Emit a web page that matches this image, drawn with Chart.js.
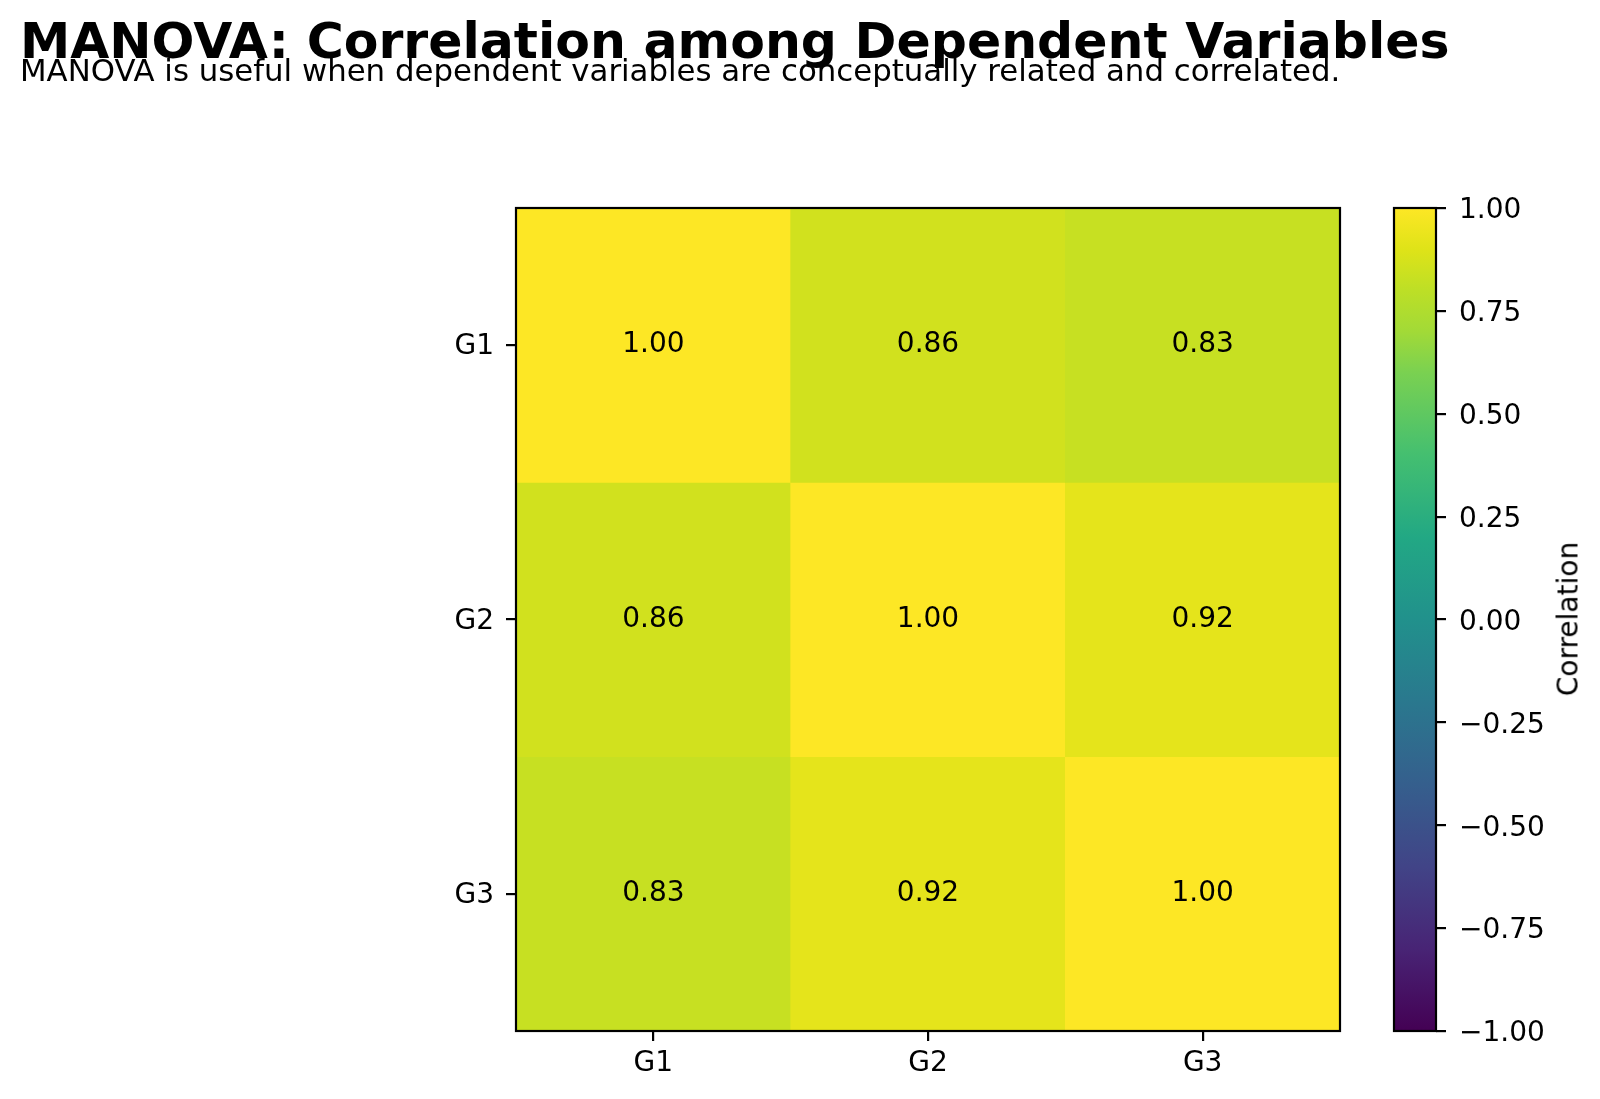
<!DOCTYPE html>
<html>
<head>
<meta charset="utf-8">
<script src="https://cdn.jsdelivr.net/npm/chart.js@4.4.1/dist/chart.umd.min.js"></script>
<style>
  body { margin: 0; background: #fff; }
  #wrap { position: relative; width: 1600px; height: 1099px; font-family: 'DejaVu Sans'; color: #000; }
  #title { position: absolute; left: 20px; top: 16px; font-size: 50.5px; font-weight: bold; line-height: 1; white-space: nowrap; }
  #subtitle { position: absolute; left: 20px; top: 55px; font-size: 30.8px; line-height: 1; white-space: nowrap; }
  #heat { position: absolute; left: 0; top: 0; }
  #bar { position: absolute; left: 1300px; top: 0; }
  #cblabel { position: absolute; left: 1568px; top: 619px; transform: translate(-50%, -50%) rotate(-90deg); font-size: 28px; white-space: nowrap; }
</style>
</head>
<body>
<div id="wrap">
  <canvas id="heat" width="1400" height="1099"></canvas>
  <canvas id="bar" width="300" height="1099"></canvas>
  <div id="title">MANOVA: Correlation among Dependent Variables</div>
  <div id="subtitle">MANOVA is useful when dependent variables are conceptually related and correlated.</div>
  <div id="cblabel">Correlation</div>
</div>
<script>
var variables = ['G1', 'G2', 'G3'];
var corrG1 = [1.00, 0.86, 0.83];
var corrG2 = [0.86, 1.00, 0.92];
var corrG3 = [0.83, 0.92, 1.00];
var corrRows = [corrG1, corrG2, corrG3];
var colorMin = -1;
var colorMax = 1;

// viridis anchors
var viridis = [
  [0.0, [68, 1, 84]], [0.1, [72, 36, 117]], [0.2, [65, 68, 135]], [0.3, [53, 95, 141]],
  [0.4, [42, 120, 142]], [0.5, [33, 145, 140]], [0.6, [34, 168, 132]], [0.7, [68, 191, 112]],
  [0.8, [122, 209, 81]], [0.85, [162, 218, 55]], [0.9, [189, 223, 38]], [0.95, [223, 227, 24]],
  [1.0, [253, 231, 37]]
];

function viridisColor(v){
  var t = (v - colorMin) / (colorMax - colorMin);
  t = Math.max(0, Math.min(1, t));
  for (var i = 1; i < viridis.length; i++) {
    if (t <= viridis[i][0]) {
      var a = viridis[i - 1], b = viridis[i];
      var f = (t - a[0]) / (b[0] - a[0]);
      var c = a[1].map(function(x, k){ return Math.round(x + f * (b[1][k] - x)); });
      return 'rgb(' + c.join(',') + ')';
    }
  }
  return 'rgb(253,231,37)';
}

Chart.defaults.font.family = 'DejaVu Sans';
Chart.defaults.font.size = 28;
Chart.defaults.color = '#000';

var framePlugin = {
  id: 'frame',
  afterDraw: function(chart){
    var a = chart.chartArea, ctx = chart.ctx;
    ctx.save();
    ctx.strokeStyle = '#000';
    ctx.lineWidth = 2.2;
    ctx.strokeRect(a.left, a.top, a.right - a.left, a.bottom - a.top);
    ctx.restore();
  }
};

var cellLabels = {
  id: 'cellLabels',
  afterDatasetsDraw: function(chart){
    var ctx = chart.ctx;
    ctx.save();
    ctx.font = '28px "DejaVu Sans"';
    ctx.fillStyle = '#000';
    ctx.textAlign = 'center';
    ctx.textBaseline = 'middle';
    chart.data.datasets.forEach(function(ds, d){
      chart.getDatasetMeta(d).data.forEach(function(el, i){
        var p = el.getProps(['x', 'y', 'base'], true);
        ctx.fillText(corrRows[d][i].toFixed(2), p.x, (p.y + p.base) / 2);
      });
    });
    ctx.restore();
  }
};

function createHeatmap(){
  var element = document.getElementById('heat').getContext('2d');
  var datasets = corrRows.map(function(row, r){
    return {
      label: variables[r],
      data: row.map(function(){ return 1; }),
      backgroundColor: row.map(viridisColor),
      borderWidth: 0,
      barPercentage: 1,
      categoryPercentage: 1
    };
  });

  new Chart(element, {
    type: 'bar',
    data: { labels: variables, datasets: datasets },
    options: {
      responsive: false,
      animation: false,
      layout: { padding: { left: 416, right: 60, top: 208, bottom: 8 } },
      plugins: { legend: { display: false }, tooltip: { enabled: false } },
      scales: {
        x: {
          stacked: true,
          grid: { offset: false, drawOnChartArea: false, tickLength: 10, color: '#000', lineWidth: 2.2 },
          border: { display: false },
          ticks: { padding: 6 },
          afterFit: function(s){ s.height = 60; }
        },
        y: {
          stacked: true,
          reverse: true,
          min: 0,
          max: variables.length,
          grid: { drawOnChartArea: false, tickLength: 10, color: '#000', lineWidth: 2.2 },
          border: { display: false },
          afterBuildTicks: function(s){
            s.ticks = variables.map(function(v, i){ return { value: i + 0.5 }; });
          },
          ticks: {
            padding: 12,
            labelOffset: 2,
            callback: function(v){ return variables[Math.floor(v)]; }
          },
          afterFit: function(s){ s.width = 100; }
        }
      }
    },
    plugins: [cellLabels, framePlugin]
  });
}

function createColorbar(){
  var element = document.getElementById('bar').getContext('2d');
  new Chart(element, {
    type: 'bar',
    data: {
      labels: [''],
      datasets: [{
        data: [[colorMin, colorMax]],
        borderWidth: 0,
        barPercentage: 1,
        categoryPercentage: 1,
        backgroundColor: function(ctx){
          var a = ctx.chart.chartArea;
          if (!a) return viridisColor(0);
          var g = ctx.chart.ctx.createLinearGradient(0, a.bottom, 0, a.top);
          viridis.forEach(function(s){ g.addColorStop(s[0], 'rgb(' + s[1].join(',') + ')'); });
          return g;
        }
      }]
    },
    options: {
      responsive: false,
      animation: false,
      layout: { padding: { left: 94, right: 0, top: 208, bottom: 68 } },
      plugins: { legend: { display: false }, tooltip: { enabled: false } },
      scales: {
        x: { display: false },
        y: {
          position: 'right',
          min: colorMin,
          max: colorMax,
          grid: { drawOnChartArea: false, tickLength: 10, color: '#000', lineWidth: 2.2 },
          border: { display: false },
          ticks: {
            stepSize: 0.25,
            padding: 13,
            labelOffset: 3,
            callback: function(v){ return v.toFixed(2).replace('-', '\u2212'); }
          },
          afterFit: function(s){ s.width = 164; }
        }
      }
    },
    plugins: [framePlugin]
  });
}

createHeatmap();
createColorbar();
</script>
</body>
</html>
